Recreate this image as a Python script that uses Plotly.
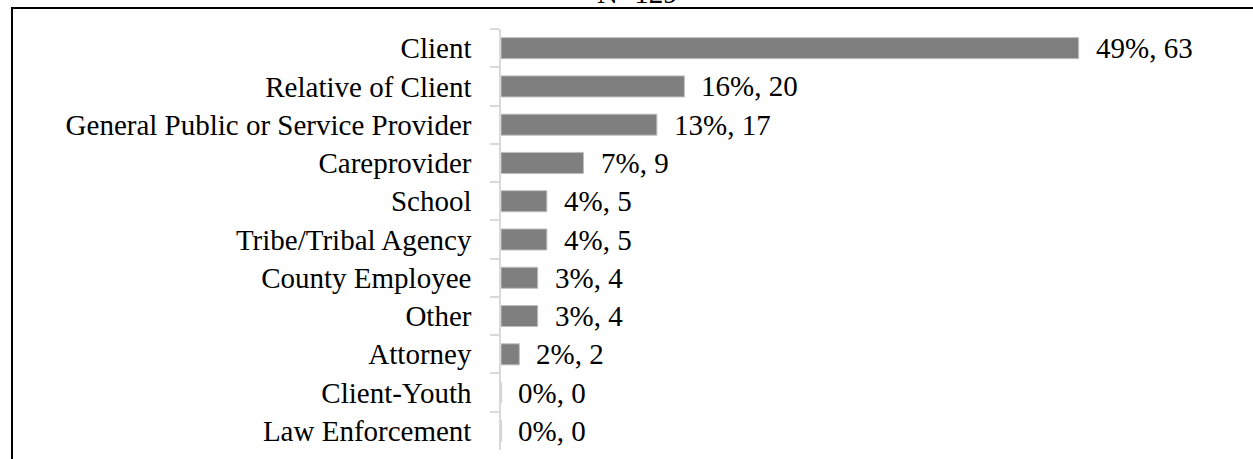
import plotly.graph_objects as go

categories = ["Client", "Relative of Client", "General Public or Service Provider",
              "Careprovider", "School", "Tribe/Tribal Agency", "County Employee",
              "Other", "Attorney", "Client-Youth", "Law Enforcement"]
counts = [63, 20, 17, 9, 5, 5, 4, 4, 2, 0, 0]
percents = [49, 16, 13, 7, 4, 4, 3, 3, 2, 0, 0]
title_text = "N=129"

labels = [f"{p}%, {c}" for p, c in zip(percents, counts)]

W, H = 1253, 459
L, T, B = 501, 29, 9
XMAX = 69.8
PW = 640
R = W - L - PW
PH = H - T - B

FONT = "Liberation Serif, Times New Roman, serif"
FS = 29

fig = go.Figure(go.Bar(
    x=counts, y=categories, orientation="h",
    marker=dict(color="#7f7f7f", line=dict(color="#bfbfbf", width=1)),
    width=0.55, hoverinfo="x+y",
))

def px_to_paper_x(px):
    return (px - L) / PW

def px_to_paper_y(py):
    return 1 - (py - T) / PH

annotations = [
    dict(text=lab, x=c, y=cat, xref="x", yref="y", xanchor="left", yanchor="middle",
         xshift=15, showarrow=False, font=dict(family=FONT, size=FS, color="black"))
    for lab, c, cat in zip(labels, counts, categories)
]
annotations.append(
    dict(text=title_text, xref="paper", yref="paper",
         x=px_to_paper_x(637), y=px_to_paper_y(11), xanchor="center", yanchor="bottom",
         showarrow=False, font=dict(family=FONT, size=FS, color="black"))
)

fig.update_layout(
    width=W, height=H,
    margin=dict(l=L, r=R, t=T, b=B, autoexpand=False),
    plot_bgcolor="white", paper_bgcolor="white",
    showlegend=False,
    font=dict(family=FONT, color="black"),
    xaxis=dict(range=[0, XMAX], visible=False),
    yaxis=dict(autorange="reversed", showline=True, linecolor="#d9d9d9", linewidth=1.5,
               ticks="outside", tickson="boundaries", ticklen=9, tickcolor="#d9d9d9",
               tickwidth=1.5, tickfont=dict(family=FONT, size=FS, color="black"),
               ticklabelstandoff=22, showgrid=False, automargin=False),
    shapes=[
        dict(type="line", xref="paper", yref="paper",
             x0=px_to_paper_x(11), x1=px_to_paper_x(W + 5),
             y0=px_to_paper_y(8), y1=px_to_paper_y(8),
             line=dict(color="black", width=2)),
        dict(type="line", xref="paper", yref="paper",
             x0=px_to_paper_x(12), x1=px_to_paper_x(12),
             y0=px_to_paper_y(7), y1=px_to_paper_y(H + 5),
             line=dict(color="black", width=2)),
    ],
    annotations=annotations,
)

fig.write_html("out.html", config={"displayModeBar": False},
               post_script="document.body.style.margin='0';")
